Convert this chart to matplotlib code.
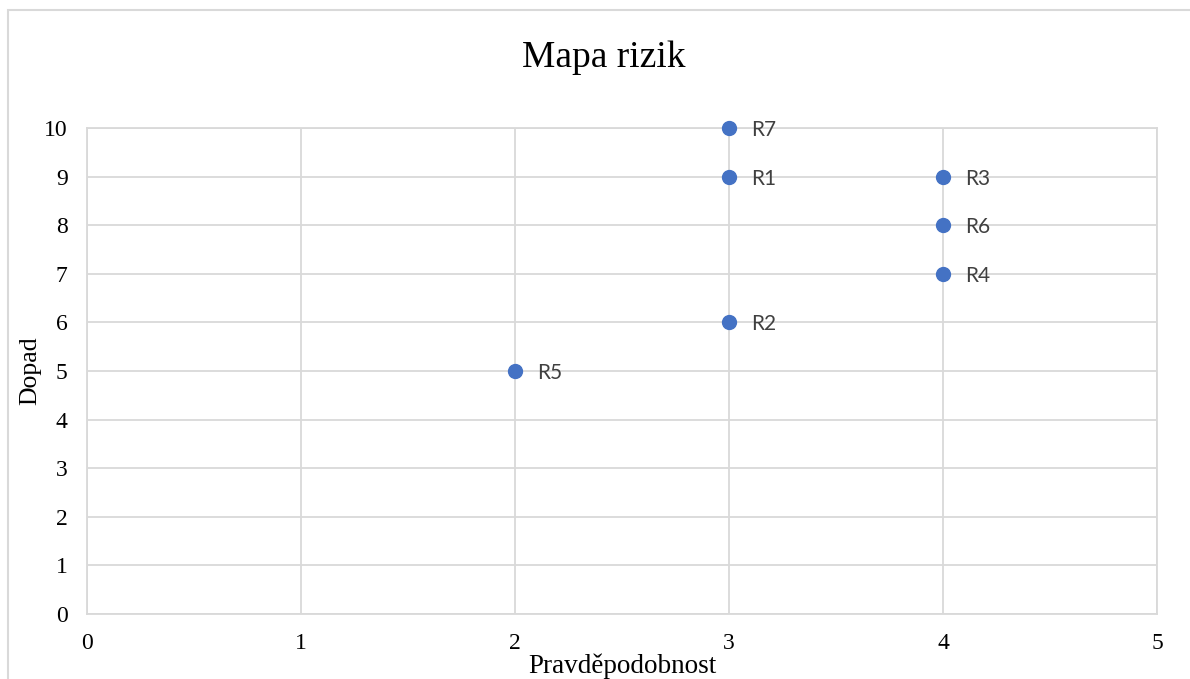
import matplotlib.pyplot as plt
from matplotlib.patches import Rectangle

# risk data
names = ['R1', 'R2', 'R3', 'R4', 'R5', 'R6', 'R7']
probability = [3, 3, 4, 4, 2, 4, 3]
impact = [9, 6, 9, 7, 5, 8, 10]

grid_color = '#d9d9d9'
serif = 'Liberation Serif'

fig = plt.figure(figsize=(11.9, 6.79), dpi=100)
ax = fig.add_axes([0.0731, 0.0957, 0.8992, 0.7158])

# outer chart frame (cropped at right/bottom)
fig.patches.append(Rectangle((8 / 1190, -0.05), 1.2, 1 - 10 / 679 + 0.05,
                             transform=fig.transFigure, fill=False,
                             edgecolor=grid_color, linewidth=1.5))

ax.scatter(probability, impact, s=100, color='#4472C4', zorder=3, clip_on=False)
for n, x, y in zip(names, probability, impact):
    ax.annotate(n, (x, y), xytext=(16, -1.5), textcoords='offset points',
                va='center', ha='left', fontsize=15, color='#404040',
                family='Lato')

ax.set_xlim(0, 5)
ax.set_ylim(0, 10)
ax.set_xticks(range(0, 6))
ax.set_yticks(range(0, 11))
ax.grid(True, color=grid_color, linewidth=1.3)
ax.set_axisbelow(True)
for s in ax.spines.values():
    s.set_color(grid_color)
    s.set_linewidth(1.3)
ax.tick_params(length=0, labelsize=17, pad=14)
for lab in ax.get_xticklabels() + ax.get_yticklabels():
    lab.set_family(serif)

ax.set_xlabel('Pravděpodobnost', family=serif, fontsize=19.5, labelpad=-0.5)
ax.set_ylabel('Dopad', family=serif, fontsize=18.5, labelpad=2)
fig.text(0.5076, 0.915, 'Mapa rizik', family=serif, fontsize=27,
         ha='center', va='center')

fig.savefig('out.png', dpi=100)
